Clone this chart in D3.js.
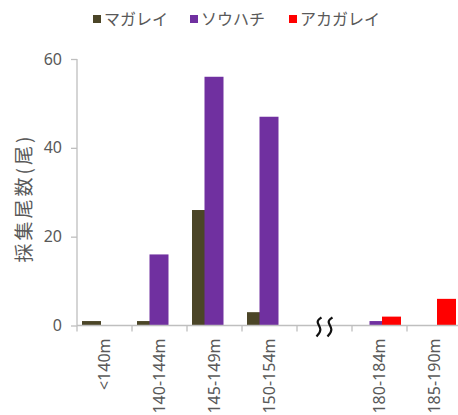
<!DOCTYPE html>
<html>
<head>
<meta charset="utf-8">
<script src="https://cdn.jsdelivr.net/npm/d3@7"></script>
<style>
  html, body { margin: 0; padding: 0; background: #fff; }
  svg { display: block; }
</style>
</head>
<body>
<svg id="chart" width="458" height="415"></svg>
<script>
// depth classes, the empty one marks the axis break
const categories = ['<140m', '140-144m', '145-149m', '150-154m', 'gap', '180-184m', '185-190m'];
const seriesNames = ['マガレイ', 'ソウハチ', 'アカガレイ'];
const magarei = [1, 1, 26, 3, 0, 0, 0];
const sohachi = [0, 16, 56, 47, 0, 1, 0];
const akagarei = [0, 0, 0, 0, 0, 2, 6];
const yTicks = [0, 20, 40, 60];
const seriesColors = ['#4b4527', '#7030a0', '#ff0000'];

const textColor = '#595959';
const axisColor = '#bfbfbf';
const latin = '"Noto Sans", "Open Sans", sans-serif';
const jp = '"Noto Sans CJK JP", "Noto Sans", sans-serif';

const svg = d3.select('#chart');
svg.append('rect').attr('width', 458).attr('height', 415).attr('fill', '#fff');

const x = d3.scaleBand().domain(categories).range([77, 462]);
const y = d3.scaleLinear().domain([0, 60]).range([325.5, 59]);

// bars: each series steps across the band and overlaps the previous one
const barW = 19;
const step = 12.5;
const series = [magarei, sohachi, akagarei];
series.forEach((values, i) => {
  svg.append('g')
    .selectAll('rect')
    .data(values.map((v, j) => ({ cat: categories[j], v })))
    .join('rect')
    .attr('x', d => x(d.cat) + 5 + i * step)
    .attr('y', d => y(d.v))
    .attr('width', barW)
    .attr('height', d => y(0) - y(d.v))
    .attr('fill', seriesColors[i]);
});

// x axis line and band boundary ticks
svg.append('line')
  .attr('x1', 77).attr('x2', 462)
  .attr('y1', y(0)).attr('y2', y(0))
  .attr('stroke', axisColor).attr('stroke-width', 1.3);

const bounds = categories.map(c => x(c)).concat([x.range()[1]]);
svg.append('g')
  .selectAll('line')
  .data(bounds)
  .join('line')
  .attr('x1', d => d).attr('x2', d => d)
  .attr('y1', y(0)).attr('y2', y(0) + 6)
  .attr('stroke', axisColor).attr('stroke-width', 1.3);

// x labels, rotated
const xAxis = svg.append('g')
  .attr('transform', `translate(0,${y(0)})`)
  .call(d3.axisBottom(x).tickSize(0).tickFormat(d => (d === 'gap' ? '' : d)));
xAxis.select('.domain').remove();
xAxis.selectAll('text')
  .attr('transform', 'rotate(-90)')
  .attr('x', -13)
  .attr('y', 0)
  .attr('dy', '0.35em')
  .attr('text-anchor', 'end')
  .attr('fill', textColor)
  .style('font-family', latin)
  .style('font-size', '16px');

// break mark in the gap band
const gx = x('gap') + x.bandwidth() / 2;
const wave = d3.line().curve(d3.curveBasis);
[-5.5, 5.5].forEach(off => {
  const cx = gx + off;
  const y0 = y(0);
  svg.append('path')
    .attr('d', wave([[cx + 2.5, y0 - 8], [cx - 3.5, y0 - 4], [cx + 3.5, y0 + 4], [cx - 2.5, y0 + 11]]))
    .attr('fill', 'none')
    .attr('stroke', '#111')
    .attr('stroke-width', 2.2);
});

// y axis
const yAxis = svg.append('g')
  .attr('transform', 'translate(77,0)')
  .call(d3.axisLeft(y).tickValues(yTicks).tickSize(6).tickPadding(9));
yAxis.select('.domain').attr('stroke', axisColor).attr('stroke-width', 1.3).attr('d', `M0,${y(60)}V${y(0)}`);
yAxis.selectAll('.tick line').attr('stroke', axisColor).attr('stroke-width', 1.3);
yAxis.selectAll('.tick text')
  .attr('fill', textColor)
  .style('font-family', latin)
  .style('font-size', '16px');

// y title
svg.append('text')
  .attr('transform', 'translate(22,198) rotate(-90)')
  .attr('text-anchor', 'middle')
  .attr('dominant-baseline', 'central')
  .attr('fill', textColor)
  .style('font-family', jp)
  .style('font-size', '19px')
  .style('letter-spacing', '3px')
  .text('採集尾数(尾)');

// legend
const legendX = [93, 190, 289];
const legend = svg.append('g')
  .selectAll('g')
  .data(seriesNames)
  .join('g')
  .attr('transform', (d, i) => `translate(${legendX[i]},19)`);
legend.append('rect')
  .attr('x', 0).attr('y', -4)
  .attr('width', 8).attr('height', 8)
  .attr('fill', (d, i) => seriesColors[i]);
legend.append('text')
  .attr('x', 11)
  .attr('dy', '0.35em')
  .attr('fill', textColor)
  .style('font-family', jp)
  .style('font-size', '16px')
  .text(d => d);
</script>
</body>
</html>
